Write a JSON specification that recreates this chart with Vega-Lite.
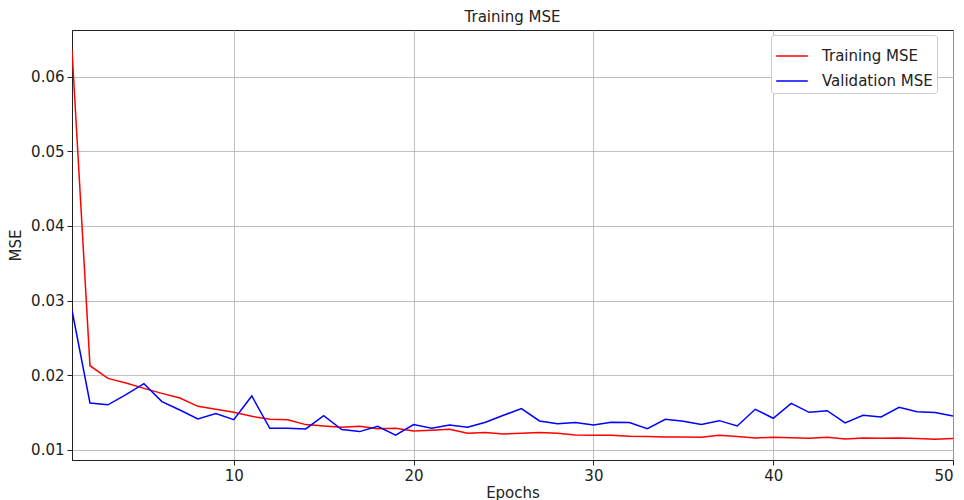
{
  "$schema": "https://vega.github.io/schema/vega-lite/v6.json",
  "autosize": "none",
  "width": 881,
  "height": 430,
  "padding": {"left": 72, "top": 30, "right": 11, "bottom": 40},
  "background": "white",
  "config": {
    "font": "DejaVu Sans",
    "view": {"stroke": "#222222", "strokeWidth": 1},
    "axis": {"labelFont": "DejaVu Sans", "titleFont": "DejaVu Sans", "labelFontSize": 15, "titleFontSize": 15, "titleFontWeight": "normal", "labelColor": "#222222", "titleColor": "#222222", "gridColor": "#b0b0b0", "gridWidth": 0.8, "tickColor": "#222222", "tickSize": 5, "domainColor": "#222222", "labelPadding": 3}
  },
  "title": {"text": "Training MSE", "fontSize": 15, "fontWeight": "normal", "font": "DejaVu Sans", "color": "#222222", "offset": 5, "anchor": "middle"},
  "data": {"values": [
    {"epoch": 1, "series": "Training MSE", "mse": 0.0636},
    {"epoch": 2, "series": "Training MSE", "mse": 0.02125},
    {"epoch": 3, "series": "Training MSE", "mse": 0.01955},
    {"epoch": 4, "series": "Training MSE", "mse": 0.01893},
    {"epoch": 5, "series": "Training MSE", "mse": 0.01821},
    {"epoch": 6, "series": "Training MSE", "mse": 0.01754},
    {"epoch": 7, "series": "Training MSE", "mse": 0.01692},
    {"epoch": 8, "series": "Training MSE", "mse": 0.0158},
    {"epoch": 9, "series": "Training MSE", "mse": 0.0154},
    {"epoch": 10, "series": "Training MSE", "mse": 0.015},
    {"epoch": 11, "series": "Training MSE", "mse": 0.01446},
    {"epoch": 12, "series": "Training MSE", "mse": 0.01406},
    {"epoch": 13, "series": "Training MSE", "mse": 0.014},
    {"epoch": 14, "series": "Training MSE", "mse": 0.01335},
    {"epoch": 15, "series": "Training MSE", "mse": 0.01317},
    {"epoch": 16, "series": "Training MSE", "mse": 0.013},
    {"epoch": 17, "series": "Training MSE", "mse": 0.01312},
    {"epoch": 18, "series": "Training MSE", "mse": 0.01281},
    {"epoch": 19, "series": "Training MSE", "mse": 0.01286},
    {"epoch": 20, "series": "Training MSE", "mse": 0.0125},
    {"epoch": 21, "series": "Training MSE", "mse": 0.01259},
    {"epoch": 22, "series": "Training MSE", "mse": 0.01272},
    {"epoch": 23, "series": "Training MSE", "mse": 0.01219},
    {"epoch": 24, "series": "Training MSE", "mse": 0.01228},
    {"epoch": 25, "series": "Training MSE", "mse": 0.0121},
    {"epoch": 26, "series": "Training MSE", "mse": 0.01219},
    {"epoch": 27, "series": "Training MSE", "mse": 0.01228},
    {"epoch": 28, "series": "Training MSE", "mse": 0.01219},
    {"epoch": 29, "series": "Training MSE", "mse": 0.01196},
    {"epoch": 30, "series": "Training MSE", "mse": 0.01192},
    {"epoch": 31, "series": "Training MSE", "mse": 0.01192},
    {"epoch": 32, "series": "Training MSE", "mse": 0.01179},
    {"epoch": 33, "series": "Training MSE", "mse": 0.01174},
    {"epoch": 34, "series": "Training MSE", "mse": 0.0117},
    {"epoch": 35, "series": "Training MSE", "mse": 0.0117},
    {"epoch": 36, "series": "Training MSE", "mse": 0.01165},
    {"epoch": 37, "series": "Training MSE", "mse": 0.01192},
    {"epoch": 38, "series": "Training MSE", "mse": 0.01174},
    {"epoch": 39, "series": "Training MSE", "mse": 0.01156},
    {"epoch": 40, "series": "Training MSE", "mse": 0.01165},
    {"epoch": 41, "series": "Training MSE", "mse": 0.0116},
    {"epoch": 42, "series": "Training MSE", "mse": 0.01152},
    {"epoch": 43, "series": "Training MSE", "mse": 0.01165},
    {"epoch": 44, "series": "Training MSE", "mse": 0.01143},
    {"epoch": 45, "series": "Training MSE", "mse": 0.01156},
    {"epoch": 46, "series": "Training MSE", "mse": 0.01152},
    {"epoch": 47, "series": "Training MSE", "mse": 0.01156},
    {"epoch": 48, "series": "Training MSE", "mse": 0.01147},
    {"epoch": 49, "series": "Training MSE", "mse": 0.01138},
    {"epoch": 50, "series": "Training MSE", "mse": 0.01147},
    {"epoch": 1, "series": "Validation MSE", "mse": 0.0287},
    {"epoch": 2, "series": "Validation MSE", "mse": 0.01625},
    {"epoch": 3, "series": "Validation MSE", "mse": 0.016},
    {"epoch": 4, "series": "Validation MSE", "mse": 0.01737},
    {"epoch": 5, "series": "Validation MSE", "mse": 0.01884},
    {"epoch": 6, "series": "Validation MSE", "mse": 0.01643},
    {"epoch": 7, "series": "Validation MSE", "mse": 0.01531},
    {"epoch": 8, "series": "Validation MSE", "mse": 0.01411},
    {"epoch": 9, "series": "Validation MSE", "mse": 0.01482},
    {"epoch": 10, "series": "Validation MSE", "mse": 0.01402},
    {"epoch": 11, "series": "Validation MSE", "mse": 0.01719},
    {"epoch": 12, "series": "Validation MSE", "mse": 0.01286},
    {"epoch": 13, "series": "Validation MSE", "mse": 0.01286},
    {"epoch": 14, "series": "Validation MSE", "mse": 0.01277},
    {"epoch": 15, "series": "Validation MSE", "mse": 0.01455},
    {"epoch": 16, "series": "Validation MSE", "mse": 0.01268},
    {"epoch": 17, "series": "Validation MSE", "mse": 0.01241},
    {"epoch": 18, "series": "Validation MSE", "mse": 0.01312},
    {"epoch": 19, "series": "Validation MSE", "mse": 0.01192},
    {"epoch": 20, "series": "Validation MSE", "mse": 0.01335},
    {"epoch": 21, "series": "Validation MSE", "mse": 0.01286},
    {"epoch": 22, "series": "Validation MSE", "mse": 0.0133},
    {"epoch": 23, "series": "Validation MSE", "mse": 0.013},
    {"epoch": 24, "series": "Validation MSE", "mse": 0.01366},
    {"epoch": 25, "series": "Validation MSE", "mse": 0.0146},
    {"epoch": 26, "series": "Validation MSE", "mse": 0.01549},
    {"epoch": 27, "series": "Validation MSE", "mse": 0.01384},
    {"epoch": 28, "series": "Validation MSE", "mse": 0.01348},
    {"epoch": 29, "series": "Validation MSE", "mse": 0.01362},
    {"epoch": 30, "series": "Validation MSE", "mse": 0.0133},
    {"epoch": 31, "series": "Validation MSE", "mse": 0.01366},
    {"epoch": 32, "series": "Validation MSE", "mse": 0.01362},
    {"epoch": 33, "series": "Validation MSE", "mse": 0.01281},
    {"epoch": 34, "series": "Validation MSE", "mse": 0.01406},
    {"epoch": 35, "series": "Validation MSE", "mse": 0.0138},
    {"epoch": 36, "series": "Validation MSE", "mse": 0.01335},
    {"epoch": 37, "series": "Validation MSE", "mse": 0.01388},
    {"epoch": 38, "series": "Validation MSE", "mse": 0.01317},
    {"epoch": 39, "series": "Validation MSE", "mse": 0.0154},
    {"epoch": 40, "series": "Validation MSE", "mse": 0.0142},
    {"epoch": 41, "series": "Validation MSE", "mse": 0.0162},
    {"epoch": 42, "series": "Validation MSE", "mse": 0.015},
    {"epoch": 43, "series": "Validation MSE", "mse": 0.01522},
    {"epoch": 44, "series": "Validation MSE", "mse": 0.01357},
    {"epoch": 45, "series": "Validation MSE", "mse": 0.0146},
    {"epoch": 46, "series": "Validation MSE", "mse": 0.01438},
    {"epoch": 47, "series": "Validation MSE", "mse": 0.01567},
    {"epoch": 48, "series": "Validation MSE", "mse": 0.01509},
    {"epoch": 49, "series": "Validation MSE", "mse": 0.01496},
    {"epoch": 50, "series": "Validation MSE", "mse": 0.01451}
  ]},
  "mark": {"type": "line", "strokeWidth": 1.5, "clip": true},
  "encoding": {
    "x": {"field": "epoch", "type": "quantitative", "title": "Epochs", "scale": {"domain": [1, 50], "nice": false, "zero": false},
      "axis": {"values": [10, 20, 30, 40, 50], "format": "d", "grid": true, "titlePadding": 2}},
    "y": {"field": "mse", "type": "quantitative", "title": "MSE", "scale": {"domain": [0.0086, 0.0663], "nice": false, "zero": false},
      "axis": {"values": [0.01, 0.02, 0.03, 0.04, 0.05, 0.06], "format": ".2f", "grid": true, "titlePadding": 7}},
    "color": {"field": "series", "type": "nominal",
      "scale": {"domain": ["Training MSE", "Validation MSE"], "range": ["#ff0000", "#0000ff"]},
      "legend": {"title": null, "orient": "none", "legendX": 699, "legendY": 5, "symbolType": "stroke", "symbolSize": 1000, "symbolStrokeWidth": 1.5, "labelFontSize": 15, "labelFont": "DejaVu Sans", "labelColor": "#222222", "fillColor": "white", "strokeColor": "#cccccc", "cornerRadius": 3, "padding": 4, "rowPadding": -2, "labelOffset": 13}}
  }
}
